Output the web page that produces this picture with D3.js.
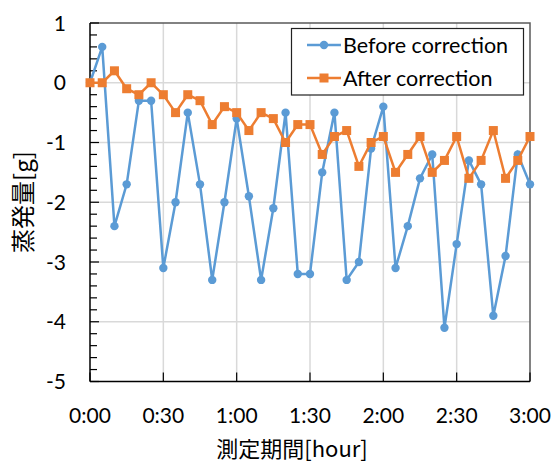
<!DOCTYPE html>
<html>
<head>
<meta charset="utf-8">
<script src="https://cdn.jsdelivr.net/npm/d3@7"></script>
<style>
  body { margin: 0; background: #fff; }
  text { font-family: Lato, "Open Sans", sans-serif; fill: #000; }
</style>
</head>
<body>
<div id="chart"></div>
<script>
// Data: one point every 5 minutes, 0:00 - 3:00
const minutes = d3.range(0, 181, 5);
const before = [0, 0.6, -2.4, -1.7, -0.3, -0.3, -3.1, -2.0, -0.5, -1.7, -3.3, -2.0, -0.6, -1.9, -3.3, -2.1, -0.5, -3.2, -3.2,
  -1.5, -0.5, -3.3, -3.0, -1.1, -0.4, -3.1, -2.4, -1.6, -1.2, -4.1, -2.7, -1.3, -1.7, -3.9, -2.9, -1.2, -1.7];
const after = [0, 0, 0.2, -0.1, -0.2, 0, -0.2, -0.5, -0.2, -0.3, -0.7, -0.4, -0.5, -0.8, -0.5, -0.6, -1.0, -0.7, -0.7,
  -1.2, -0.9, -0.8, -1.4, -1.0, -0.9, -1.5, -1.2, -0.9, -1.5, -1.3, -0.9, -1.6, -1.3, -0.8, -1.6, -1.3, -0.9];
const xTicks = [0, 30, 60, 90, 120, 150, 180];
const yTicks = [1, 0, -1, -2, -3, -4, -5];
const seriesNames = ['Before correction', 'After correction'];

const config = {
  width: 554,
  height: 463,
  margin: { top: 23, right: 24, bottom: 81.5, left: 90 }
};
const blue = '#5B9BD5';
const orange = '#ED7D31';

const svg = d3.select('#chart').append('svg')
  .attr('width', config.width)
  .attr('height', config.height);

const x = d3.scaleLinear()
  .domain([0, 180])
  .range([config.margin.left, config.width - config.margin.right]);
const y = d3.scaleLinear()
  .domain([-5, 1])
  .range([config.height - config.margin.bottom, config.margin.top]);

// gridlines
svg.append('g')
  .selectAll('line.vg')
  .data(xTicks.slice(1, -1))
  .enter().append('line')
  .attr('x1', d => x(d)).attr('x2', d => x(d))
  .attr('y1', y(1)).attr('y2', y(-5))
  .attr('stroke', '#d9d9d9').attr('stroke-width', 1.5);
svg.append('g')
  .selectAll('line.hg')
  .data(yTicks.slice(1, -1))
  .enter().append('line')
  .attr('x1', x(0)).attr('x2', x(180))
  .attr('y1', d => y(d)).attr('y2', d => y(d))
  .attr('stroke', '#d9d9d9').attr('stroke-width', 1.5);

// plot frame (top/right)
svg.append('path')
  .attr('d', `M${x(0)},${y(1)}H${x(180)}V${y(-5)}`)
  .attr('fill', 'none')
  .attr('stroke', '#595959')
  .attr('stroke-width', 1.5);

// left axis: ticks inward, minor every 0.2
const minor = d3.range(-5, 1.001, 0.2).map(v => Math.round(v * 10) / 10);
svg.append('g')
  .selectAll('line')
  .data(minor)
  .enter().append('line')
  .attr('x1', x(0))
  .attr('x2', d => x(0) + (Number.isInteger(d) ? 9 : 7))
  .attr('y1', d => y(d)).attr('y2', d => y(d))
  .attr('stroke', '#000').attr('stroke-width', 1.2);
svg.append('line')
  .attr('x1', x(0)).attr('x2', x(0))
  .attr('y1', y(1)).attr('y2', y(-5))
  .attr('stroke', '#000').attr('stroke-width', 1.5);

svg.append('g')
  .selectAll('text')
  .data(yTicks)
  .enter().append('text')
  .attr('x', 66)
  .attr('y', d => y(d))
  .attr('dy', '0.36em')
  .attr('text-anchor', 'end')
  .attr('font-size', 21)
  .text(d => d);

// bottom axis
svg.append('g')
  .selectAll('line')
  .data(xTicks)
  .enter().append('line')
  .attr('x1', d => x(d)).attr('x2', d => x(d))
  .attr('y1', y(-5)).attr('y2', y(-5) - 9)
  .attr('stroke', '#000').attr('stroke-width', 1.2);
svg.append('line')
  .attr('x1', x(0)).attr('x2', x(180))
  .attr('y1', y(-5)).attr('y2', y(-5))
  .attr('stroke', '#000').attr('stroke-width', 1.5);

svg.append('g')
  .selectAll('text')
  .data(xTicks)
  .enter().append('text')
  .attr('x', d => x(d))
  .attr('y', 423)
  .attr('text-anchor', 'middle')
  .attr('font-size', 21)
  .text(d => Math.floor(d / 60) + ':' + d3.format('02')(d % 60));

// axis titles
svg.append('text')
  .attr('x', 292)
  .attr('y', 457)
  .attr('text-anchor', 'middle')
  .attr('font-size', 22)
  .style('font-family', '"Noto Sans CJK JP", sans-serif')
  .attr('fill', '#404040')
  .text('測定期間[hour]');
svg.append('text')
  .attr('transform', 'translate(32,202) rotate(-90)')
  .attr('text-anchor', 'middle')
  .attr('font-size', 24)
  .style('font-family', '"Noto Sans CJK JP", sans-serif')
  .attr('fill', '#404040')
  .text('蒸発量[g]');

// series
const line = d3.line()
  .x((d, i) => x(minutes[i]))
  .y(d => y(d));

svg.append('path')
  .datum(before)
  .attr('d', line)
  .attr('fill', 'none')
  .attr('stroke', blue)
  .attr('stroke-width', 2.5);
svg.append('g')
  .selectAll('circle')
  .data(before)
  .enter().append('circle')
  .attr('cx', (d, i) => x(minutes[i]))
  .attr('cy', d => y(d))
  .attr('r', 4.2)
  .attr('fill', blue);

svg.append('path')
  .datum(after)
  .attr('d', line)
  .attr('fill', 'none')
  .attr('stroke', orange)
  .attr('stroke-width', 2.5);
svg.append('g')
  .selectAll('rect')
  .data(after)
  .enter().append('rect')
  .attr('x', (d, i) => x(minutes[i]) - 4.5)
  .attr('y', d => y(d) - 4.5)
  .attr('width', 9)
  .attr('height', 9)
  .attr('fill', orange);

// legend
const legend = svg.append('g').attr('class', 'legend');
legend.append('rect')
  .attr('x', 291.5).attr('y', 28.5)
  .attr('width', 232).attr('height', 66.5)
  .attr('fill', '#fff')
  .attr('stroke', '#222')
  .attr('stroke-width', 1.2);
const rows = legend.selectAll('g.row')
  .data(seriesNames)
  .enter().append('g')
  .attr('transform', (d, i) => `translate(0,${45 + 33 * i})`);
rows.append('line')
  .attr('x1', 307).attr('x2', 341)
  .attr('stroke', (d, i) => i ? orange : blue)
  .attr('stroke-width', 2.5);
rows.filter((d, i) => i === 0).append('circle')
  .attr('cx', 324).attr('r', 4.2).attr('fill', blue);
rows.filter((d, i) => i === 1).append('rect')
  .attr('x', 319.5).attr('y', -4.5).attr('width', 9).attr('height', 9).attr('fill', orange);
rows.append('text')
  .attr('x', 343)
  .attr('dy', '0.36em')
  .attr('font-size', 21.5)
  .text(d => d);
</script>
</body>
</html>
